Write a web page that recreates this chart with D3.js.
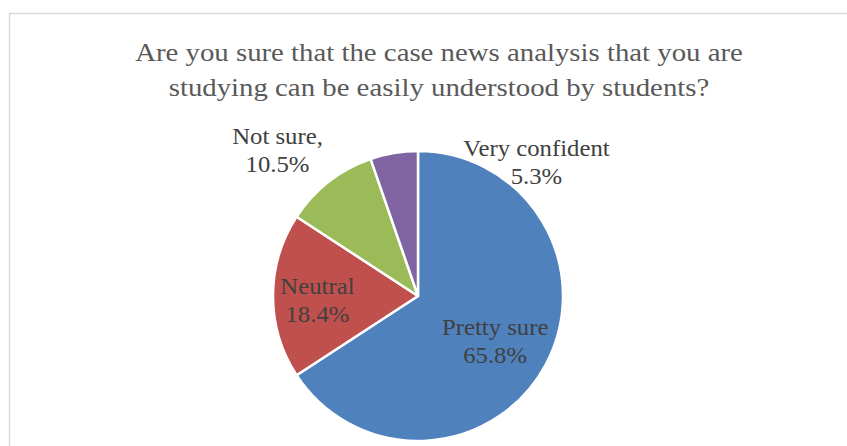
<!DOCTYPE html>
<html>
<head>
<meta charset="utf-8">
<script src="https://cdn.jsdelivr.net/npm/d3@7"></script>
<style>
  body { margin: 0; background: #fff; }
  svg { display: block; }
</style>
</head>
<body>
<div id="chart"></div>
<script>
const titleLines = [
  'Are you sure that the case news analysis that you are',
  'studying can be easily understood by students?'
];
const categories = ['Pretty sure', 'Neutral', 'Not sure', 'Very confident'];
const values = [65.8, 18.4, 10.5, 5.3];
const labelTexts = [
  ['Pretty sure', '65.8%'],
  ['Neutral', '18.4%'],
  ['Not sure,', '10.5%'],
  ['Very confident', '5.3%']
];
const colors = ['#4F81BD', '#C0504D', '#9BBB59', '#8064A2'];

const serif = '"Liberation Serif", "Times New Roman", Times, serif';

function drawPie(selector) {
  const width = 847;
  const height = 446;
  const cx = 418;
  const cy = 296;
  const radius = 145;
  const stretch = 1.13; // the original text is a bit wider than Liberation Serif

  const svg = d3.select(selector).append('svg')
    .attr('width', width)
    .attr('height', height);

  // chart area border (right and bottom run off the picture)
  svg.append('rect')
    .attr('x', 9.5)
    .attr('y', 13.5)
    .attr('width', 850)
    .attr('height', 450)
    .attr('fill', 'none')
    .attr('stroke', '#d9d9d9')
    .attr('stroke-width', 1.5);

  svg.append('g')
    .selectAll('text')
    .data(titleLines)
    .join('text')
    .attr('transform', (d, i) => `translate(439, ${61 + i * 35}) scale(${stretch}, 1)`)
    .attr('text-anchor', 'middle')
    .attr('font-family', serif)
    .attr('font-size', 25.5)
    .attr('fill', '#595959')
    .text(d => d);

  const data = categories.map((c, i) => ({ name: c, value: values[i], color: colors[i], lines: labelTexts[i] }));

  const pie = d3.pie()
    .value(d => d.value)
    .sort(null);

  const arc = d3.arc()
    .innerRadius(0)
    .outerRadius(radius);

  const arcs = pie(data);

  const g = svg.append('g')
    .attr('transform', `translate(${cx}, ${cy})`);

  g.selectAll('path')
    .data(arcs)
    .join('path')
    .attr('d', arc)
    .attr('fill', d => d.data.color)
    .attr('stroke', '#fff')
    .attr('stroke-width', 2.5)
    .attr('stroke-linejoin', 'round');

  // label placement: radius factor along the slice, plus a nudge like Excel does
  const labelRadius = [0.66, 0.69, 1.3, 1.25];
  const labelNudge = [[-7, 7], [-0.5, 11.5], [-24.5, 11], [148.5, 52.7]];

  const labels = g.selectAll('g.label')
    .data(arcs)
    .join('g')
    .attr('class', 'label')
    .attr('transform', (d, i) => {
      const r = radius * labelRadius[i];
      const [x, y] = d3.arc().innerRadius(r).outerRadius(r).centroid(d);
      return `translate(${x + labelNudge[i][0]}, ${y + labelNudge[i][1]})`;
    });

  labels.selectAll('text')
    .data(d => d.data.lines)
    .join('text')
    .attr('text-anchor', 'middle')
    .attr('transform', (d, i) => `translate(0, ${(i - 0.5) * 28}) scale(1.1, 1)`)
    .attr('font-family', serif)
    .attr('font-size', 22.5)
    .attr('fill', '#404040')
    .text(d => d);
}

drawPie('#chart');
</script>
</body>
</html>
